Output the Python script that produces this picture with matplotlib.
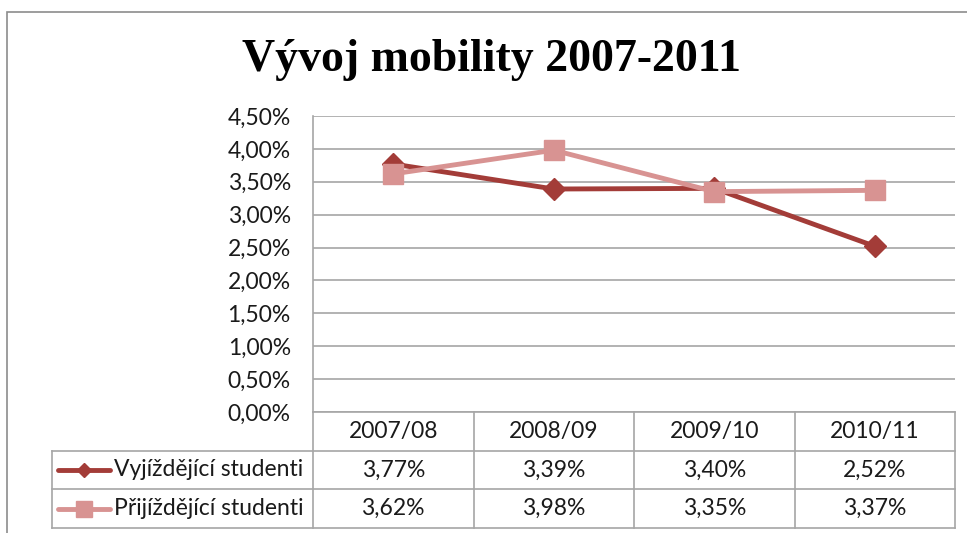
import matplotlib
matplotlib.use("Agg")
import matplotlib.pyplot as plt
from matplotlib.transforms import blended_transform_factory
from matplotlib.lines import Line2D
from matplotlib.patches import Rectangle

categories = ["2007/08", "2008/09", "2009/10", "2010/11"]
series_names = ["Vyjíždějící studenti", "Přijíždějící studenti"]
vyjizdejici = [3.77, 3.39, 3.40, 2.52]
prijizdejici = [3.62, 3.98, 3.35, 3.37]
yticks = [0, 0.5, 1.0, 1.5, 2.0, 2.5, 3.0, 3.5, 4.0, 4.5]

W, H = 967, 533
fig = plt.figure(figsize=(W / 100, H / 100), dpi=100)
FONT = "Lato"
FS = 16.5
TXT = "#1a1a1a"
GRID = "#A6A6A6"
C1 = "#A33C38"
C2 = "#D89392"

def fx(px):
    return px / W

def fy(py):
    return 1 - py / H

# outer chart border
fig.patches.append(Rectangle((fx(7), fy(545)), fx(990) - fx(7), fy(12) - fy(545),
                             transform=fig.transFigure, fill=False, edgecolor="#8C8C8C",
                             linewidth=1.2))

left, right, top, bottom = 313, 955, 116, 412
ax = fig.add_axes([fx(left), fy(bottom), fx(right) - fx(left), fy(top) - fy(bottom)])
x = list(range(len(categories)))
ax.set_xlim(-0.5, len(categories) - 0.5)
ax.set_ylim(0, 4.5)
ax.set_yticks(yticks)
ax.set_yticklabels([f"{v:.2f}".replace(".", ",") + "%" for v in yticks],
                   fontfamily=FONT, fontsize=FS, color=TXT)
ax.set_xticks([])
for s in ["top", "right", "bottom"]:
    ax.spines[s].set_visible(False)
ax.spines["left"].set_color(GRID)
ax.spines["left"].set_linewidth(1.2)
ax.tick_params(axis="y", length=0, pad=16)
ax.yaxis.grid(True, color=GRID, linewidth=1.2)
ax.set_axisbelow(True)

ax.plot(x, vyjizdejici, color=C1, linewidth=3.5, marker="D", markersize=11,
        zorder=3, label=series_names[0])
ax.plot(x, prijizdejici, color=C2, linewidth=3.5, marker="s", markersize=15,
        zorder=4, label=series_names[1])

fig.text(fx(492), fy(60), "Vývoj mobility 2007-2011", ha="center", va="center",
         fontfamily="Liberation Serif", fontweight="bold", fontsize=33)

# data table
tr = blended_transform_factory(ax.transData, fig.transFigure)
row_y = [412, 451, 489, 528]
legend_left_px = 52
legend_left = ax.transData.inverted().transform(
    fig.transFigure.transform((fx(legend_left_px), 0)))[0]
xmin, xmax = -0.5, len(categories) - 0.5

def hline(x0, x1, py):
    fig.add_artist(Line2D([x0, x1], [fy(py), fy(py)], transform=tr, color=GRID,
                          linewidth=1.2))

def vline(xv, py0, py1):
    fig.add_artist(Line2D([xv, xv], [fy(py0), fy(py1)], transform=tr, color=GRID,
                          linewidth=1.2))

hline(xmin, xmax, row_y[0])
hline(legend_left, xmax, row_y[1])
hline(legend_left, xmax, row_y[2])
hline(legend_left, xmax, row_y[3])
vline(legend_left, row_y[1], row_y[3])
for i in range(len(categories) + 1):
    vline(xmin + i, row_y[0], row_y[3])

for i, c in enumerate(categories):
    fig.text(i, fy((row_y[0] + row_y[1]) / 2), c, transform=tr, ha="center",
             va="center", fontfamily=FONT, fontsize=FS, color=TXT)

rows = [vyjizdejici, prijizdejici]
colors = [C1, C2]
markers = [("D", 7.5), ("s", 11)]
for r, vals in enumerate(rows):
    yc = fy((row_y[r + 1] + row_y[r + 2]) / 2)
    for i, v in enumerate(vals):
        fig.text(i, yc, f"{v:.2f}".replace(".", ",") + "%", transform=tr,
                 ha="center", va="center", fontfamily=FONT, fontsize=FS,
                 color=TXT)
    fig.add_artist(Line2D([fx(58), fx(110)], [yc, yc], transform=fig.transFigure,
                          color=colors[r], linewidth=3.5, solid_capstyle="round"))
    fig.add_artist(Line2D([fx(84)], [yc], transform=fig.transFigure,
                          color=colors[r], marker=markers[r][0],
                          markersize=markers[r][1], linestyle="none"))
    fig.text(fx(114), yc, series_names[r], ha="left", va="center",
             fontfamily=FONT, fontsize=FS, color=TXT)

fig.savefig("out.png", dpi=100)
